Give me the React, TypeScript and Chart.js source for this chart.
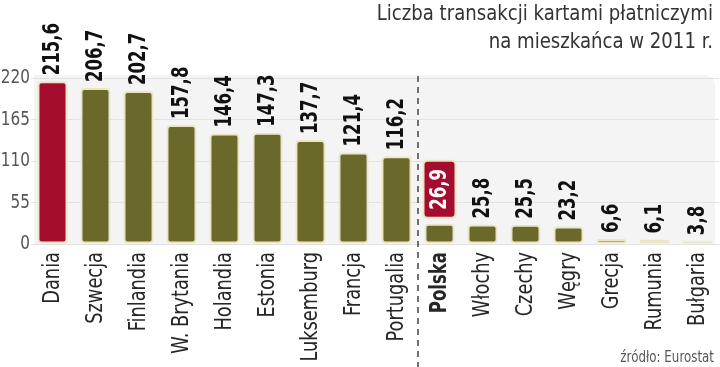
import React, { useEffect, useRef } from "react";
import { Chart, registerables } from "chart.js";

Chart.register(...registerables);

const categories = [
  "Dania", "Szwecja", "Finlandia", "W. Brytania", "Holandia", "Estonia",
  "Luksemburg", "Francja", "Portugalia", "Polska", "Włochy", "Czechy",
  "Węgry", "Grecja", "Rumunia", "Bułgaria",
];
const values = [
  215.6, 206.7, 202.7, 157.8, 146.4, 147.3, 137.7, 121.4, 116.2,
  26.9, 25.8, 25.5, 23.2, 6.6, 6.1, 3.8,
];
const valueLabels = [
  "215,6", "206,7", "202,7", "157,8", "146,4", "147,3", "137,7", "121,4", "116,2",
  "26,9", "25,8", "25,5", "23,2", "6,6", "6,1", "3,8",
];
const yTicks = [0, 55, 110, 165, 220];
const titleLines = ["Liczba transakcji kartami płatniczymi", "na mieszkańca w 2011 r."];
const sourceText = "źródło: Eurostat";
const redBarCategory = "Dania";
const highlightCategory = "Polska";
const separatorAfter = "Portugalia";

const FONT = '"DejaVu Sans Condensed", "Liberation Sans Narrow", "Arial Narrow", sans-serif';
const RED = "#a40d2e";
const OLIVE = "#6a6929";
const CREAM = "#ebe5c4";

function roundRect(ctx: CanvasRenderingContext2D, x: number, y: number, w: number, h: number, r: number) {
  ctx.beginPath();
  ctx.moveTo(x + r, y);
  ctx.lineTo(x + w - r, y);
  ctx.quadraticCurveTo(x + w, y, x + w, y + r);
  ctx.lineTo(x + w, y + h - r);
  ctx.quadraticCurveTo(x + w, y + h, x + w - r, y + h);
  ctx.lineTo(x + r, y + h);
  ctx.quadraticCurveTo(x, y + h, x, y + h - r);
  ctx.lineTo(x, y + r);
  ctx.quadraticCurveTo(x, y, x + r, y);
  ctx.closePath();
}

// draw text with horizontal (along-text) compression, optionally rotated
function drawText(
  ctx: CanvasRenderingContext2D,
  text: string,
  x: number,
  y: number,
  opts: { font: string; color: string; align: CanvasTextAlign; baseline: CanvasTextBaseline; rotate?: number; sx?: number }
) {
  ctx.save();
  ctx.translate(x, y);
  if (opts.rotate) ctx.rotate(opts.rotate);
  ctx.scale(opts.sx ?? 1, 1);
  ctx.font = opts.font;
  ctx.fillStyle = opts.color;
  ctx.textAlign = opts.align;
  ctx.textBaseline = opts.baseline;
  ctx.fillText(text, 0, 0);
  ctx.restore();
}

const VAL_FONT = `bold 23px ${FONT}`;
const VAL_SX = 0.8;

const decorPlugin = {
  id: "decor",
  beforeDraw(chart: any) {
    const { ctx, chartArea } = chart;
    const left = chartArea.left + 3;
    const right = 715;
    const top = 75;
    const bottom = chartArea.bottom;
    const r = 12;
    ctx.save();
    ctx.fillStyle = "#f4f4f4";
    ctx.beginPath();
    ctx.moveTo(left, top);
    ctx.lineTo(right - r, top);
    ctx.quadraticCurveTo(right, top, right, top + r);
    ctx.lineTo(right, bottom);
    ctx.lineTo(left, bottom);
    ctx.closePath();
    ctx.fill();
    ctx.restore();
  },
  afterDatasetsDraw(chart: any) {
    const { ctx, scales } = chart;
    const meta = chart.getDatasetMeta(0);
    meta.data.forEach((bar: any, i: number) => {
      const label = valueLabels[i];
      const x = bar.x;
      const yTop = bar.y;
      const isHighlight = categories[i] === highlightCategory;
      ctx.save();
      ctx.font = VAL_FONT;
      const tw = ctx.measureText(label).width * VAL_SX;
      ctx.restore();
      if (isHighlight) {
        const bw = 32;
        const bh = tw + 16;
        const by = yTop - 6 - bh;
        ctx.save();
        roundRect(ctx, x - bw / 2, by, bw, bh, 4);
        ctx.fillStyle = RED;
        ctx.fill();
        ctx.lineWidth = 2;
        ctx.strokeStyle = CREAM;
        ctx.stroke();
        ctx.restore();
        drawText(ctx, label, x + 1, by + bh - 8, {
          font: VAL_FONT, color: "#ffffff", align: "left", baseline: "middle", rotate: -Math.PI / 2, sx: VAL_SX,
        });
      } else {
        drawText(ctx, label, x + 1, yTop - 6, {
          font: VAL_FONT, color: "#111111", align: "left", baseline: "middle", rotate: -Math.PI / 2, sx: VAL_SX,
        });
      }
    });

    // category labels
    const xs = scales.x;
    categories.forEach((c, i) => {
      const x = xs.getPixelForTick(i);
      const bold = c === highlightCategory;
      drawText(ctx, c, x + 1, chart.chartArea.bottom + 8, {
        font: `${bold ? "bold " : ""}23px ${FONT}`,
        color: "#262626",
        align: "right",
        baseline: "middle",
        rotate: -Math.PI / 2,
        sx: bold ? 0.8 : 0.86,
      });
    });

    // y tick labels
    const ys = scales.y;
    yTicks.forEach((v) => {
      drawText(ctx, String(v), 30, ys.getPixelForValue(v), {
        font: `20px ${FONT}`, color: "#555", align: "right", baseline: "middle", sx: 0.85,
      });
    });
  },
  afterDraw(chart: any) {
    const { ctx, scales } = chart;
    const xs = scales.x;
    const idx = categories.indexOf(separatorAfter);
    const sx = (xs.getPixelForTick(idx) + xs.getPixelForTick(idx + 1)) / 2;
    ctx.save();
    ctx.strokeStyle = "#444";
    ctx.lineWidth = 1.5;
    ctx.setLineDash([6, 5]);
    ctx.beginPath();
    ctx.moveTo(sx, 76);
    ctx.lineTo(sx, chart.height);
    ctx.stroke();
    ctx.restore();

    drawText(ctx, titleLines[0], 713, 20, {
      font: `22px ${FONT}`, color: "#333", align: "right", baseline: "alphabetic", sx: 0.915,
    });
    drawText(ctx, titleLines[1], 713, 48, {
      font: `22px ${FONT}`, color: "#333", align: "right", baseline: "alphabetic", sx: 0.915,
    });
    drawText(ctx, sourceText, 714, 362, {
      font: `15px ${FONT}`, color: "#555", align: "right", baseline: "alphabetic", sx: 0.88,
    });
  },
};

export default function App() {
  const ref = useRef<HTMLCanvasElement | null>(null);
  useEffect(() => {
    document.body.style.margin = "0";
    const canvas = ref.current;
    if (!canvas) return;
    const chart = new Chart(canvas, {
      type: "bar",
      data: {
        labels: categories,
        datasets: [
          {
            data: values,
            backgroundColor: categories.map((c) => (c === redBarCategory ? RED : OLIVE)),
            borderColor: CREAM,
            borderWidth: 2,
            borderRadius: 4,
            borderSkipped: false,
            barPercentage: 0.7,
            categoryPercentage: 1,
          },
        ],
      },
      options: {
        animation: false,
        responsive: false,
        maintainAspectRatio: false,
        layout: { padding: { top: 78, right: 1, left: 0, bottom: 0 } },
        plugins: { legend: { display: false }, tooltip: { enabled: false } },
        scales: {
          x: {
            grid: { display: false },
            border: { display: false },
            ticks: { display: false },
            afterFit: (s: any) => {
              s.height = 123;
              s.paddingLeft = 0;
              s.paddingRight = 0;
            },
          },
          y: {
            min: 0,
            max: 220,
            afterBuildTicks: (s: any) => {
              s.ticks = yTicks.map((v) => ({ value: v }));
            },
            grid: { color: "#e2e2e2", drawTicks: false, lineWidth: 1 },
            border: { display: false },
            ticks: { display: false },
            afterFit: (s: any) => {
              s.width = 31;
              s.paddingTop = 0;
              s.paddingBottom = 0;
            },
          },
        },
      },
      plugins: [decorPlugin],
    });
    return () => chart.destroy();
  }, []);
  return (
    <div style={{ position: "absolute", left: 0, top: 0, width: 720, height: 367 }}>
      <canvas ref={ref} width={720} height={367} style={{ width: 720, height: 367, display: "block" }} />
    </div>
  );
}
